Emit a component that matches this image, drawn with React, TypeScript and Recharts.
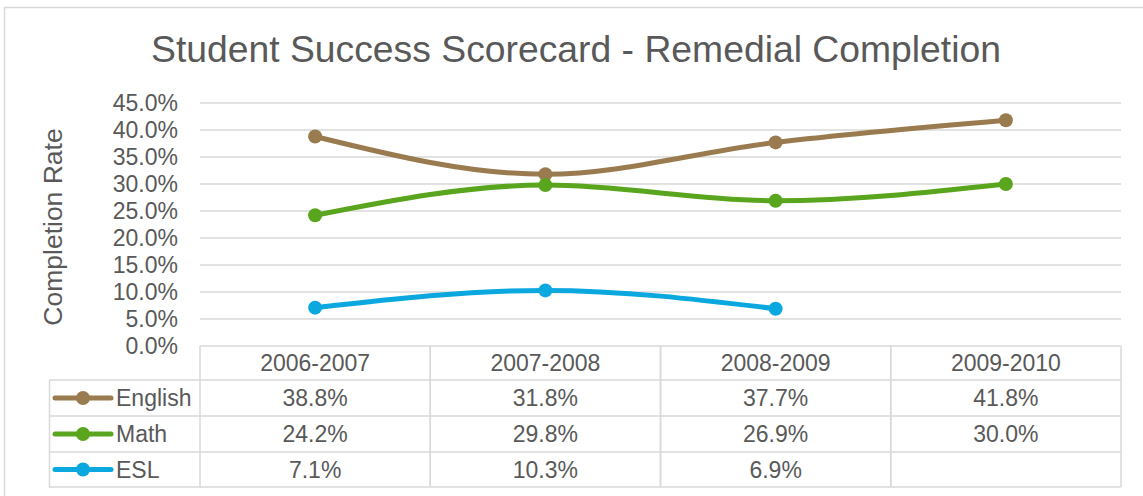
import { CartesianGrid, Legend, Line, LineChart, XAxis, YAxis } from "recharts"

const categories = ["2006-2007", "2007-2008", "2008-2009", "2009-2010"]
const english = [0.388, 0.318, 0.377, 0.418]
const math = [0.242, 0.298, 0.269, 0.3]
const esl: (number | null)[] = [0.071, 0.103, 0.069, null]
const yTicks = [0, 0.05, 0.1, 0.15, 0.2, 0.25, 0.3, 0.35, 0.4, 0.45]

const series = [
    { name: "English", values: english, color: "#9A7B4F" },
    { name: "Math", values: math, color: "#5AA51E" },
    { name: "ESL", values: esl, color: "#0BA8E0" },
]

const data = categories.map((cat, i) => ({
    cat,
    English: english[i],
    Math: math[i],
    ESL: esl[i],
}))

const W = 1143
const H = 496
const PLOT_LEFT = 200
const PLOT_RIGHT = 1121
const FONT = "'Liberation Sans', Arial, sans-serif"
const TEXT = "#595959"
const GRID = "#d9d9d9"
const FS = 23
// header row, then one row per series
const ROWS = [0, 34, 70, 106, 141]

const pct = (v: number) => (v * 100).toFixed(1) + "%"

function TableTick(props: any) {
    const { x, y, payload, index } = props
    const bw = (PLOT_RIGHT - PLOT_LEFT) / categories.length
    const left = x - bw / 2
    const right = x + bw / 2
    const bottom = y + ROWS[ROWS.length - 1]
    return (
        <g>
            <line x1={left} x2={left} y1={y} y2={bottom} stroke={GRID} strokeWidth={1.5} />
            <line x1={right} x2={right} y1={y} y2={bottom} stroke={GRID} strokeWidth={1.5} />
            {ROWS.slice(1).map((r) => (
                <line key={r} x1={left} x2={right} y1={y + r} y2={y + r} stroke={GRID} strokeWidth={1.5} />
            ))}
            <text x={x} y={y + ROWS[1] / 2} textAnchor="middle" dominantBaseline="central"
                fill={TEXT} fontSize={FS} fontFamily={FONT}>
                {payload.value}
            </text>
            {series.map((s, k) => {
                const v = s.values[index]
                if (v == null) return null
                return (
                    <text key={s.name} x={x} y={y + (ROWS[k + 1] + ROWS[k + 2]) / 2} textAnchor="middle"
                        dominantBaseline="central" fill={TEXT} fontSize={FS} fontFamily={FONT}>
                        {pct(v)}
                    </text>
                )
            })}
        </g>
    )
}

function TableLegend(props: any) {
    const order = series.map((s) => s.name)
    const payload = [...(props.payload || [])].sort(
        (a: any, b: any) => order.indexOf(a.value) - order.indexOf(b.value)
    )
    return (
        <svg width={154} height={112} style={{ display: "block" }}>
            <line x1={1.5} x2={1.5} y1={1} y2={109} stroke={GRID} strokeWidth={1.5} />
            {[1, 37, 73, 108].map((r) => (
                <line key={r} x1={1} x2={153} y1={r} y2={r} stroke={GRID} strokeWidth={1.5} />
            ))}
            {payload.map((p: any, k: number) => {
                const cy = (ROWS[k + 1] + ROWS[k + 2]) / 2 - 33
                return (
                    <g key={p.value}>
                        <line x1={7} x2={63} y1={cy} y2={cy} stroke={p.color} strokeWidth={5} strokeLinecap="round" />
                        <circle cx={35} cy={cy} r={7} fill={p.color} />
                        <text x={68} y={cy} dominantBaseline="central" fill={TEXT} fontSize={FS} fontFamily={FONT}>
                            {p.value}
                        </text>
                    </g>
                )
            })}
        </svg>
    )
}

function YLabel() {
    return (
        <text x={53} y={227} transform="rotate(-90 53 227)" textAnchor="middle" dominantBaseline="central"
            fill={TEXT} fontSize={26.5} fontFamily={FONT}>
            Completion Rate
        </text>
    )
}

export default function App() {
    return (
        <div style={{ position: "absolute", left: 0, top: 0, width: W, height: H, overflow: "hidden", background: "#fff" }}>
            <LineChart width={W} height={H} data={data} margin={{ top: 103, right: W - PLOT_RIGHT, bottom: 0, left: 50 }}>
                <CartesianGrid vertical={false} stroke={GRID} strokeWidth={1.5} />
                <XAxis dataKey="cat" scale="band" height={150} interval={0} axisLine={false}
                    tickLine={false} tickSize={0} tickMargin={0} tick={<TableTick />} />
                <YAxis width={150} domain={[0, 0.45]} ticks={yTicks} interval={0} tickFormatter={pct}
                    axisLine={false} tickLine={false} tickSize={0} tickMargin={22}
                    tick={{ fill: TEXT, fontSize: FS, fontFamily: FONT }} label={<YLabel />} />
                <Legend layout="vertical" align="center" verticalAlign="middle" content={<TableLegend />}
                    wrapperStyle={{ position: "absolute", left: 48, top: 379, width: 154, height: 112 }} />
                {series.map((s) => (
                    <Line key={s.name} dataKey={s.name} name={s.name} type="monotone" stroke={s.color}
                        strokeWidth={5} dot={{ r: 7, fill: s.color, stroke: s.color, strokeWidth: 0 }}
                        activeDot={false} isAnimationActive={false} />
                ))}
            </LineChart>
            <svg width={W} height={H} style={{ position: "absolute", left: 0, top: 0, pointerEvents: "none" }}>
                <rect x={4.5} y={7.5} width={1160} height={520} fill="none" stroke={GRID} strokeWidth={1.5} />
                <text x={576} y={62} textAnchor="middle" fill={TEXT} fontSize={37.3} fontFamily={FONT}>
                    Student Success Scorecard - Remedial Completion
                </text>
            </svg>
        </div>
    )
}
